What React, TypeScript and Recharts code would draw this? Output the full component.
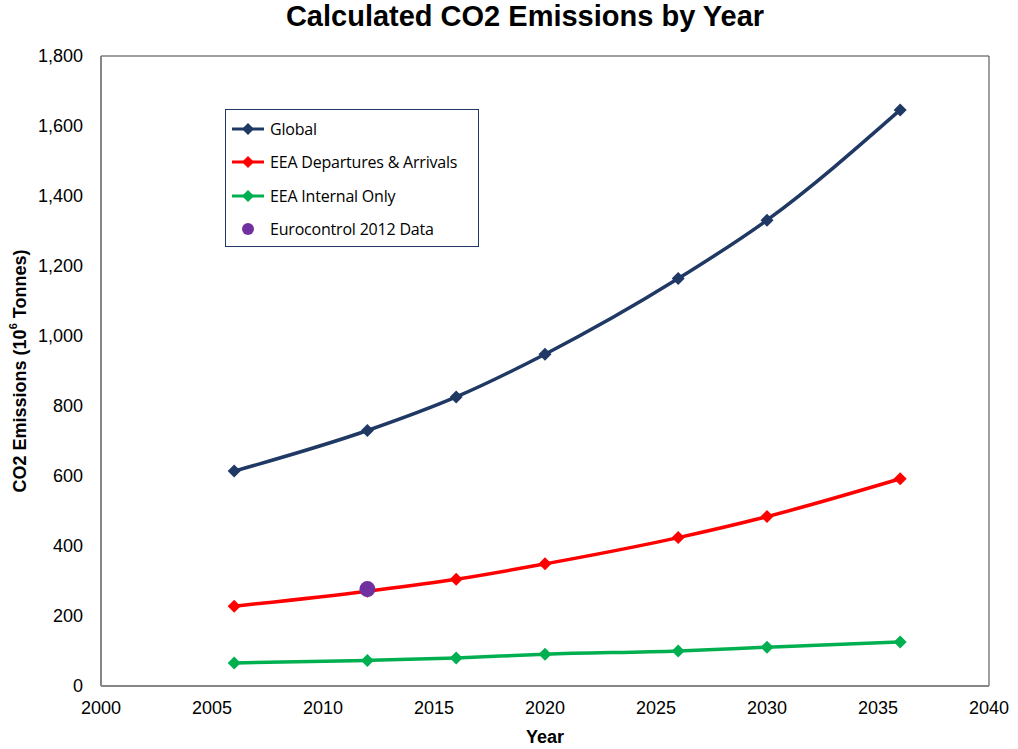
import React from 'react';
import {
  ComposedChart,
  Line,
  XAxis,
  YAxis,
  ReferenceArea,
} from 'recharts';

// years
const years = [2006, 2012, 2016, 2020, 2026, 2030, 2036];
const globalCo2 = [614, 730, 826, 948, 1164, 1331, 1646];
const eeaDepArr = [228, 271, 305, 349, 424, 484, 592];
const eeaInternal = [66, 73, 80, 91, 100, 111, 126];

const eurocontrolYears = [2012];
const eurocontrolCo2 = [277];

const xTicks = [2000, 2005, 2010, 2015, 2020, 2025, 2030, 2035, 2040];
const yTicks = [0, 200, 400, 600, 800, 1000, 1200, 1400, 1600, 1800];

const COLORS = {
  global: '#1F3864',
  depArr: '#FF0000',
  internal: '#00B050',
  euro: '#7030A0',
};

const data = years.map((year, i) => ({
  year,
  global: globalCo2[i],
  depArr: eeaDepArr[i],
  internal: eeaInternal[i],
}));

const euroData = eurocontrolYears.map((year, i) => ({ year, euro: eurocontrolCo2[i] }));

const FONT = '"Liberation Sans", Arial, sans-serif';

function Diamond(props: any) {
  const { cx, cy, fill } = props;
  if (cx == null || cy == null) return null;
  const s = 6.5;
  return (
    <path
      d={`M${cx},${cy - s} L${cx + s},${cy} L${cx},${cy + s} L${cx - s},${cy} Z`}
      fill={fill}
    />
  );
}

function Dot(props: any) {
  const { cx, cy, fill } = props;
  if (cx == null || cy == null) return null;
  return <circle cx={cx} cy={cy} r={8} fill={fill} />;
}

const legendItems = [
  { label: 'Global', color: COLORS.global, kind: 'line' },
  { label: 'EEA Departures & Arrivals', color: COLORS.depArr, kind: 'line' },
  { label: 'EEA Internal Only', color: COLORS.internal, kind: 'line' },
  { label: 'Eurocontrol 2012 Data', color: COLORS.euro, kind: 'dot' },
];

function LegendBox() {
  return (
    <div
      style={{
        position: 'absolute',
        left: 225,
        top: 109,
        width: 254,
        height: 138,
        border: '1px solid #1F3864',
        background: '#fff',
        boxSizing: 'border-box',
        padding: '2px 0 0 5px',
        fontFamily: '"Open Sans", sans-serif',
        fontSize: 16,
      }}
    >
      {legendItems.map((it) => (
        <div key={it.label} style={{ display: 'flex', alignItems: 'center', height: 33.5 }}>
          <svg width={36} height={14} style={{ marginRight: 3 }}>
            {it.kind === 'line' ? (
              <>
                <line x1={1} y1={7} x2={33} y2={7} stroke={it.color} strokeWidth={3} />
                <path d="M17,1 L23,7 L17,13 L11,7 Z" fill={it.color} />
              </>
            ) : (
              <circle cx={17} cy={7} r={6} fill={it.color} />
            )}
          </svg>
          <span style={{ color: '#000', letterSpacing: -0.2 }}>{it.label}</span>
        </div>
      ))}
    </div>
  );
}

function YTitle(props: any) {
  const { viewBox } = props;
  const cy = viewBox.y + viewBox.height / 2;
  return (
    <text
      x={20}
      y={cy}
      transform={`rotate(-90, 20, ${cy})`}
      textAnchor="middle"
      dominantBaseline="central"
      fontFamily={FONT}
      fontWeight="bold"
      fontSize={18}
      fill="#000"
    >
      CO2 Emissions (10
      <tspan dy={-7} fontSize={11}>6</tspan>
      <tspan dy={7}> Tonnes)</tspan>
    </text>
  );
}

export default function App() {
  return (
    <div style={{ position: 'fixed', left: 0, top: 0, width: 1018, height: 749, background: '#fff' }}>
      <div
        style={{
          position: 'absolute',
          top: 0,
          left: 0,
          width: 1050,
          textAlign: 'center',
          fontFamily: FONT,
          fontWeight: 'bold',
          fontSize: 29,
          color: '#000',
        }}
      >
        Calculated CO2 Emissions by Year
      </div>
      <ComposedChart
        width={1018}
        height={749}
        data={data}
        margin={{ top: 56, right: 29, bottom: 0, left: 0 }}
      >
        <ReferenceArea
          x1={2000}
          x2={2040}
          y1={0}
          y2={1800}
          fill="none"
          stroke="#404040"
          strokeWidth={1}
          ifOverflow="visible"
        />
        <XAxis
          type="number"
          dataKey="year"
          domain={[2000, 2040]}
          ticks={xTicks}
          allowDataOverflow
          height={63}
          tickLine={false}
          tickSize={0}
          tickMargin={15}
          axisLine={{ stroke: '#868686', strokeWidth: 2 }}
          tick={{ fill: '#000', fontSize: 18, fontFamily: FONT }}
          label={{
            value: 'Year',
            position: 'insideBottom',
            offset: 6,
            style: { fill: '#000', fontSize: 18, fontWeight: 'bold', fontFamily: FONT },
          }}
        />
        <YAxis
          type="number"
          domain={[0, 1800]}
          ticks={yTicks}
          width={101}
          tickLine={false}
          tickSize={0}
          tickMargin={18}
          axisLine={{ stroke: '#868686', strokeWidth: 2 }}
          tick={{ fill: '#000', fontSize: 18, fontFamily: FONT }}
          tickFormatter={(v: number) => v.toLocaleString('en-US')}
          label={<YTitle />}
        />
        <Line
          type="monotone"
          dataKey="global"
          stroke={COLORS.global}
          strokeWidth={3.5}
          dot={<Diamond fill={COLORS.global} />}
          activeDot={false}
          isAnimationActive={false}
        />
        <Line
          type="monotone"
          dataKey="depArr"
          stroke={COLORS.depArr}
          strokeWidth={3.5}
          dot={<Diamond fill={COLORS.depArr} />}
          activeDot={false}
          isAnimationActive={false}
        />
        <Line
          type="monotone"
          dataKey="internal"
          stroke={COLORS.internal}
          strokeWidth={3.5}
          dot={<Diamond fill={COLORS.internal} />}
          activeDot={false}
          isAnimationActive={false}
        />
        <Line
          data={euroData}
          dataKey="euro"
          stroke="none"
          strokeWidth={0}
          dot={<Dot fill={COLORS.euro} />}
          activeDot={false}
          isAnimationActive={false}
        />
      </ComposedChart>
      <LegendBox />
    </div>
  );
}
